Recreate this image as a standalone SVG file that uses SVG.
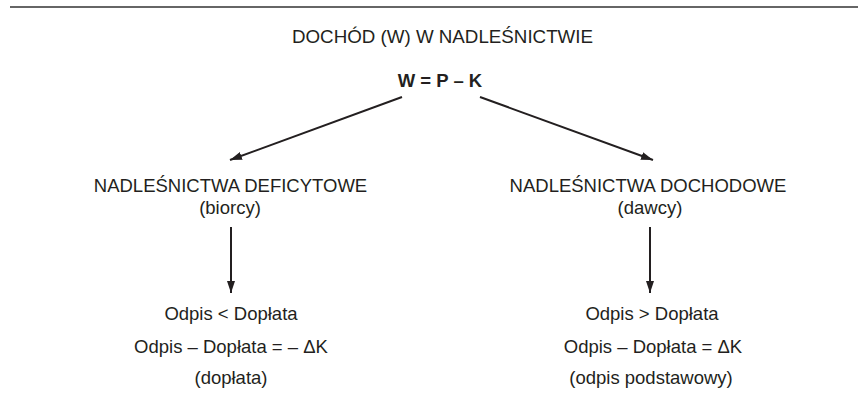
<svg xmlns="http://www.w3.org/2000/svg" width="858" height="403" viewBox="0 0 858 403">
<defs>
<marker id="ah" viewBox="0 0 12 8" refX="12" refY="4" markerWidth="12" markerHeight="8" markerUnits="userSpaceOnUse" orient="auto">
<path d="M0,0 L12,4 L0,8 z" fill="#231f20"/>
</marker>
</defs>
<style>
text{font-family:"Liberation Sans",Arial,sans-serif;font-size:18.5px;fill:#231f20;text-anchor:middle}
.b{font-weight:bold}
.c line{stroke:#231f20;stroke-width:2;marker-end:url(#ah)}
</style>
<rect width="858" height="403" fill="#fff"/>
<line x1="10" y1="7" x2="858" y2="7" stroke="#666" stroke-width="2"/>
<g id="title"><text x="442.5" y="43" textLength="301" lengthAdjust="spacingAndGlyphs">DOCHÓD (W) W NADLEŚNICTWIE</text></g>
<g id="formula"><text class="b" x="440" y="87">W = P – K</text></g>
<g id="deficit"><text x="230.5" y="192">NADLEŚNICTWA DEFICYTOWE</text><text x="230" y="214">(biorcy)</text></g>
<g id="income"><text x="648" y="192">NADLEŚNICTWA DOCHODOWE</text><text x="650" y="214">(dawcy)</text></g>
<g id="deficit-result"><text x="231" y="320">Odpis &lt; Dopłata</text><text x="231" y="353">Odpis – Dopłata = – ΔK</text><text x="231" y="384">(dopłata)</text></g>
<g id="income-result"><text x="652" y="320">Odpis &gt; Dopłata</text><text x="653" y="353">Odpis – Dopłata = ΔK</text><text x="651" y="384">(odpis podstawowy)</text></g>
<g class="c" id="connectors">
<line x1="402" y1="97" x2="230" y2="160"/>
<line x1="480" y1="97" x2="653" y2="160"/>
<line x1="231" y1="227" x2="231" y2="293"/>
<line x1="650" y1="227" x2="650" y2="293"/>
</g>
</svg>
